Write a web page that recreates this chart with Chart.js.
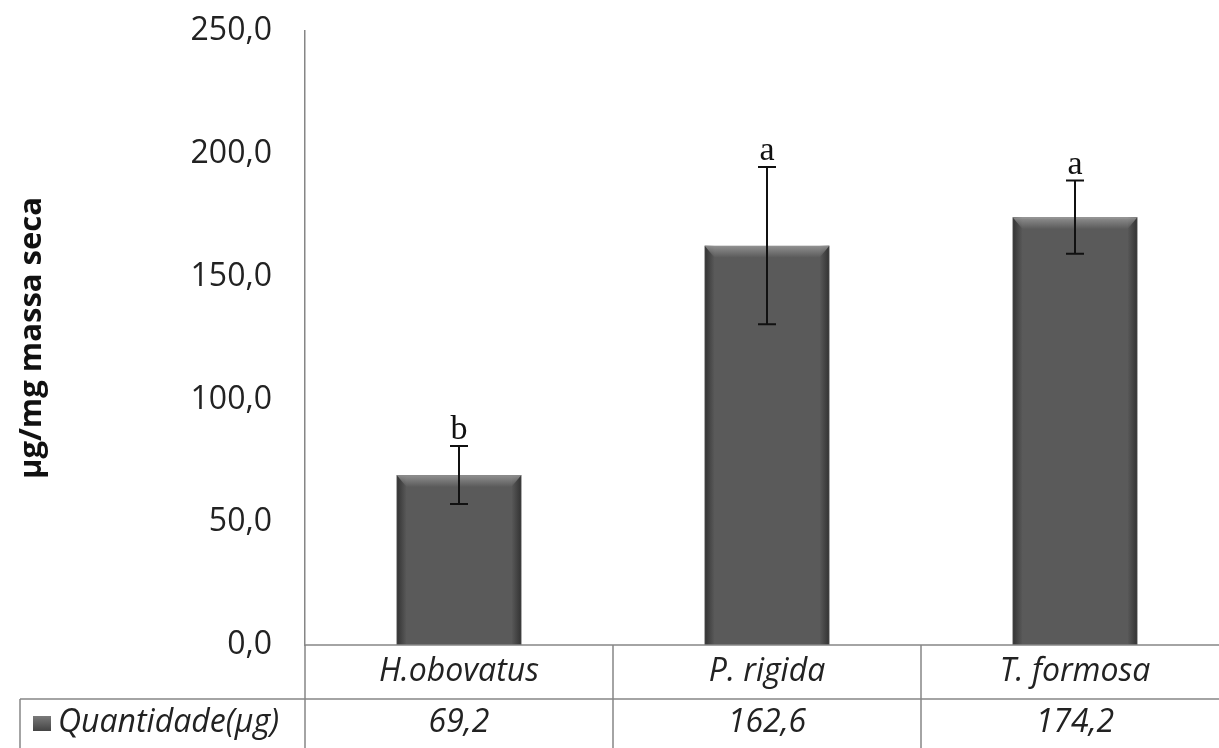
<!DOCTYPE html>
<html>
<head>
<meta charset="utf-8">
<script src="https://cdn.jsdelivr.net/npm/chart.js@4.4.1/dist/chart.umd.min.js"></script>
<style>
  html, body { margin: 0; padding: 0; background: #fff; overflow: hidden; }
  #wrap { width: 1219px; height: 748px; overflow: hidden; }
</style>
</head>
<body>
<div id="wrap"><canvas id="chart" width="1235" height="748"></canvas></div>
<script>
const categories = ['H.obovatus', 'P. rigida', 'T. formosa'];
const values = [69.2, 162.6, 174.2];
const errors = [11.8, 32.0, 14.9];
const letters = ['b', 'a', 'a'];
const seriesLabel = 'Quantidade(µg)';
const yTicks = [0, 50, 100, 150, 200, 250];
const yTitle = 'µg/mg massa seca';

const lineGray = '#868686';
const textColor = '#222222';

function fmt(v) {
  return v.toFixed(1).replace('.', ',');
}

// bevel look of the excel bars
const bevelPlugin = {
  id: 'bevel',
  afterDatasetsDraw(chart) {
    const ctx = chart.ctx;
    chart.getDatasetMeta(0).data.forEach(bar => {
      const l = bar.x - bar.width / 2;
      const r = bar.x + bar.width / 2;
      const t = bar.y;
      const b = bar.base;
      ctx.save();
      let g = ctx.createLinearGradient(l, 0, l + 10, 0);
      g.addColorStop(0, 'rgba(40,40,40,0.8)');
      g.addColorStop(1, 'rgba(40,40,40,0)');
      ctx.fillStyle = g;
      ctx.fillRect(l, t, 10, b - t);
      g = ctx.createLinearGradient(r, 0, r - 10, 0);
      g.addColorStop(0, 'rgba(40,40,40,0.8)');
      g.addColorStop(1, 'rgba(40,40,40,0)');
      ctx.fillStyle = g;
      ctx.fillRect(r - 10, t, 10, b - t);
      g = ctx.createLinearGradient(0, t, 0, t + 12);
      g.addColorStop(0, 'rgba(150,150,150,0.9)');
      g.addColorStop(1, 'rgba(150,150,150,0)');
      ctx.fillStyle = g;
      ctx.beginPath();
      ctx.moveTo(l, t);
      ctx.lineTo(r, t);
      ctx.lineTo(r - 10, t + 12);
      ctx.lineTo(l + 10, t + 12);
      ctx.closePath();
      ctx.fill();
      ctx.restore();
    });
  }
};

const errorBarPlugin = {
  id: 'errorBars',
  afterDatasetsDraw(chart) {
    const ctx = chart.ctx;
    const y = chart.scales.y;
    chart.getDatasetMeta(0).data.forEach((bar, i) => {
      const hi = y.getPixelForValue(values[i] + errors[i]);
      const lo = y.getPixelForValue(values[i] - errors[i]);
      ctx.save();
      ctx.strokeStyle = '#111';
      ctx.lineWidth = 2;
      ctx.beginPath();
      ctx.moveTo(bar.x, hi); ctx.lineTo(bar.x, lo);
      ctx.moveTo(bar.x - 9, hi); ctx.lineTo(bar.x + 9, hi);
      ctx.moveTo(bar.x - 9, lo); ctx.lineTo(bar.x + 9, lo);
      ctx.stroke();
      ctx.fillStyle = '#111';
      ctx.font = '34px "Liberation Serif", serif';
      ctx.textAlign = 'center';
      ctx.textBaseline = 'alphabetic';
      ctx.fillText(letters[i], bar.x, hi - 7);
      ctx.restore();
    });
  }
};

// data table under the plot
const tablePlugin = {
  id: 'dataTable',
  afterDraw(chart) {
    const ctx = chart.ctx;
    const area = chart.chartArea;
    const x = chart.scales.x;
    const step = (area.right - area.left) / categories.length;
    const top = area.bottom;
    const mid = top + 54;
    const bottom = chart.height + 5;
    const legendLeft = 20;
    ctx.save();
    ctx.strokeStyle = lineGray;
    ctx.lineWidth = 1.5;
    ctx.beginPath();
    ctx.moveTo(area.left, top); ctx.lineTo(area.right, top);
    ctx.moveTo(legendLeft, mid); ctx.lineTo(area.right, mid);
    ctx.moveTo(area.left, top); ctx.lineTo(area.left, bottom);
    ctx.moveTo(legendLeft, mid); ctx.lineTo(legendLeft, bottom);
    for (let i = 1; i < categories.length; i++) {
      const bx = area.left + step * i;
      ctx.moveTo(bx, top); ctx.lineTo(bx, bottom);
    }
    ctx.stroke();

    ctx.fillStyle = textColor;
    ctx.font = 'italic 32px "Open Sans", sans-serif';
    ctx.textAlign = 'center';
    ctx.textBaseline = 'middle';
    categories.forEach((c, i) => {
      const cx = x.getPixelForValue(i);
      ctx.fillText(c, cx, (top + mid) / 2);
      ctx.fillText(fmt(values[i]), cx, mid + 24);
    });

    // legend key
    const g = ctx.createLinearGradient(0, mid + 17, 0, mid + 33);
    g.addColorStop(0, '#7a7a7a');
    g.addColorStop(1, '#404040');
    ctx.fillStyle = g;
    ctx.fillRect(33, mid + 17, 18, 15);
    ctx.fillStyle = textColor;
    ctx.textAlign = 'left';
    ctx.fillText(seriesLabel, 58, mid + 24);
    ctx.restore();
  }
};

new Chart(document.getElementById('chart'), {
  type: 'bar',
  data: {
    labels: categories,
    datasets: [{
      label: seriesLabel,
      data: values,
      backgroundColor: '#5a5a5a',
      borderColor: '#3c3c3c',
      borderWidth: 1,
      categoryPercentage: 1,
      barPercentage: 0.405
    }]
  },
  options: {
    responsive: false,
    animation: false,
    devicePixelRatio: 1,
    layout: {
      padding: { top: 31, bottom: 103, left: 0, right: 6 }
    },
    plugins: {
      legend: { display: false },
      tooltip: { enabled: false }
    },
    scales: {
      x: {
        display: false
      },
      y: {
        min: 0,
        max: 250,
        afterBuildTicks: (scale) => {
          scale.ticks = yTicks.map(v => ({ value: v }));
        },
        afterFit: (scale) => {
          scale.width = 305;
          scale.paddingTop = 0;
          scale.paddingBottom = 0;
        },
        ticks: {
          color: textColor,
          padding: 33,
          font: { family: '"Open Sans", sans-serif', size: 32 },
          callback: (v) => fmt(v)
        },
        grid: { display: false, drawTicks: false },
        border: { display: true, color: lineGray, width: 1.5 },
        title: {
          display: true,
          text: yTitle,
          color: '#111',
          padding: { top: 14, bottom: 0 },
          font: { family: '"Open Sans", sans-serif', size: 31, weight: 'bold' }
        }
      }
    }
  },
  plugins: [bevelPlugin, errorBarPlugin, tablePlugin]
});
</script>
</body>
</html>
